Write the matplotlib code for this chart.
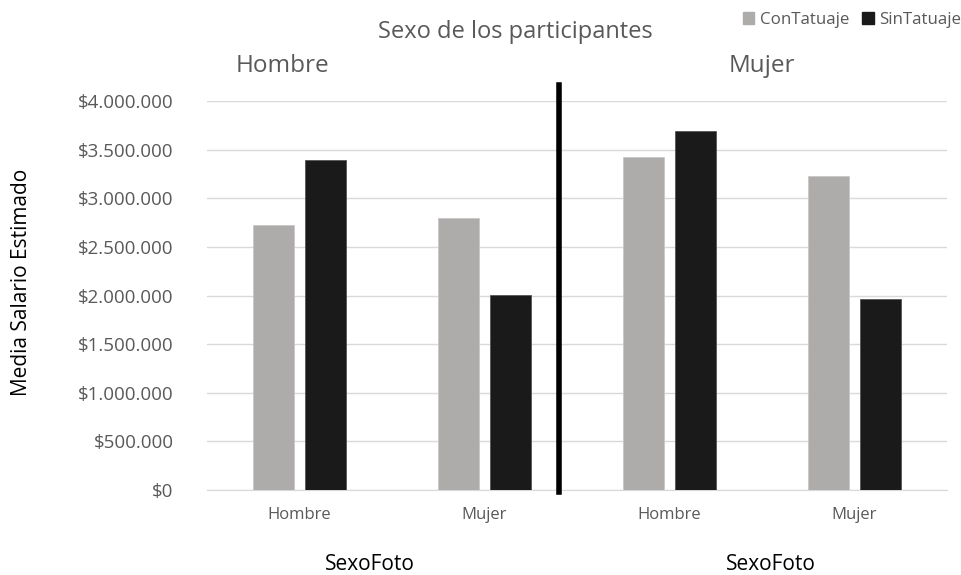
import matplotlib
matplotlib.use("Agg")
import matplotlib.pyplot as plt
from matplotlib.lines import Line2D
from matplotlib.ticker import FuncFormatter
from matplotlib.patches import Patch
import numpy as np

categories = ["Hombre", "Mujer", "Hombre", "Mujer"]
panels = ["Hombre", "Mujer"]
con_tatuaje = [2725000, 2800000, 3425000, 3225000]
sin_tatuaje = [3393000, 2005000, 3695000, 1964000]
series_names = ["ConTatuaje", "SinTatuaje"]
yticks = [0, 500000, 1000000, 1500000, 2000000, 2500000, 3000000, 3500000, 4000000]

plt.rcParams['font.family'] = ['Open Sans', 'DejaVu Sans']
col_con = "#AEABAB"
col_sin = "#1A1A1A"
txt = "#595959"

fig = plt.figure(figsize=(9.61, 5.75), dpi=100)
ax = fig.add_axes([207/961, 1-490/575, 740/961, 389/575])

x = np.arange(len(categories))
w = 0.22
off = 0.14
ax.bar(x - off, con_tatuaje, w, color=col_con, edgecolor="#c8c6c6", linewidth=0.6, zorder=3)
ax.bar(x + off, sin_tatuaje, w, color=col_sin, edgecolor="#555555", linewidth=0.6, zorder=3)

ax.set_xlim(-0.5, len(categories) - 0.5)
ax.set_ylim(0, 4000000)
ax.set_yticks(yticks)
ax.yaxis.set_major_formatter(FuncFormatter(lambda v, p: "$" + f"{int(v):,}".replace(",", ".")))
ax.set_xticks(x)
ax.set_xticklabels(categories, fontsize=12, color=txt)
ax.tick_params(axis='y', labelsize=13.5, colors=txt, length=0, pad=24)
ax.tick_params(axis='x', length=0, pad=12)
ax.grid(axis='y', color="#d9d9d9", linewidth=1, zorder=0)
for s in ["top", "right", "left"]:
    ax.spines[s].set_visible(False)
ax.spines["bottom"].set_color("#d9d9d9")

# divider between panels
ax.add_line(Line2D([1.4, 1.4], [-0.005, 1.04], transform=ax.get_xaxis_transform(),
                   color="black", linewidth=4, clip_on=False, zorder=5))

fig.text(515/961, 1-32/575, "Sexo de los participantes", ha="center", va="center", fontsize=17, color=txt)
fig.text(282/961, 1-66/575, panels[0], ha="center", va="center", fontsize=17.5, color=txt)
fig.text(762/961, 1-66/575, panels[1], ha="center", va="center", fontsize=17.5, color=txt)
fig.text(370/961, 1-565/575, "SexoFoto", ha="center", va="center", fontsize=15, color="black")
fig.text(771/961, 1-565/575, "SexoFoto", ha="center", va="center", fontsize=15, color="black")
fig.text(22/961, 1-282/575, "Media Salario Estimado", ha="center", va="center", rotation=90, fontsize=15, color="black")

handles = [Patch(color=col_con), Patch(color=col_sin)]
fig.legend(handles, series_names, loc="center", bbox_to_anchor=(852/961, 1-20/575), ncol=2,
           frameon=False, fontsize=12.2, handlelength=0.7, handleheight=0.7, handletextpad=0.3,
           columnspacing=0.8, labelcolor=txt)

fig.savefig("out.png", dpi=100)
